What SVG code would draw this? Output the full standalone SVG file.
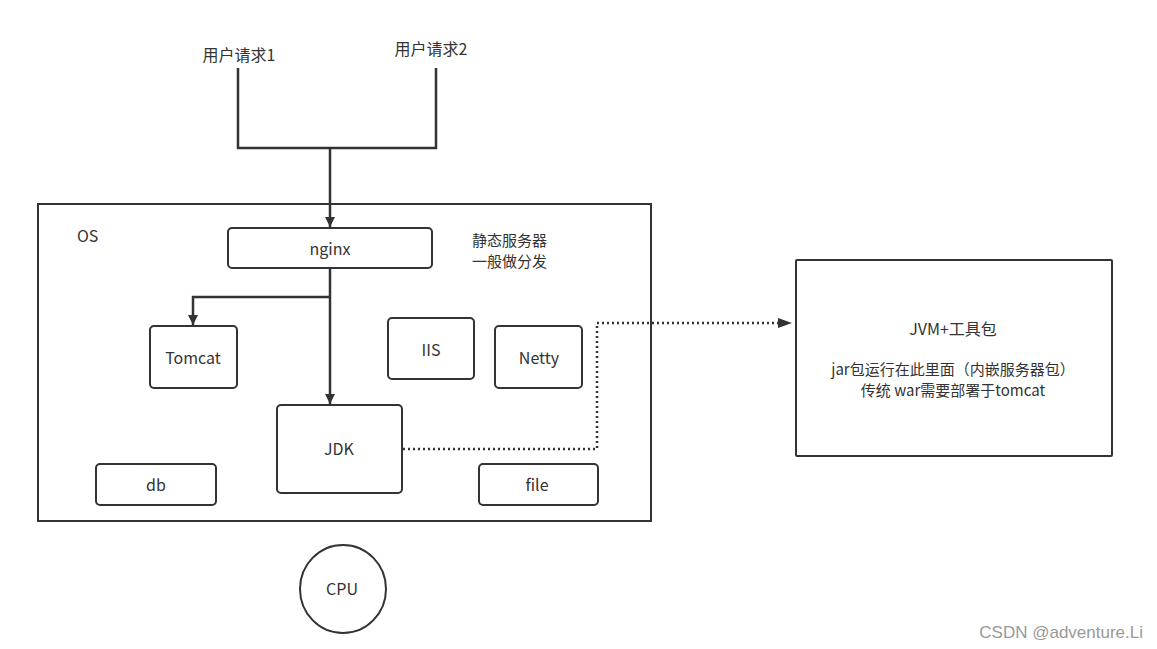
<svg xmlns="http://www.w3.org/2000/svg" width="1157" height="649" viewBox="0 0 1157 649">
<style>
.box{fill:#fff;stroke:#333;stroke-width:2}
.t{font-family:"Noto Sans CJK SC","Noto Sans",sans-serif;font-size:16px;fill:#333;text-anchor:middle;dominant-baseline:central}
.tl{font-family:"Noto Sans CJK SC","Noto Sans",sans-serif;font-size:15px;fill:#333;dominant-baseline:central}
.ts{font-size:15px}
.ln{fill:none;stroke:#333;stroke-width:2.5}
.dot{fill:none;stroke:#333;stroke-width:2.5;stroke-dasharray:2 3}
</style>
<defs>
<marker id="ah" viewBox="0 0 10 10" refX="10" refY="5" markerWidth="10" markerHeight="12" markerUnits="userSpaceOnUse" orient="auto">
<path d="M0,0 L10,5 L0,10 z" fill="#333"/>
</marker>
</defs>
<rect width="1157" height="649" fill="#fff"/>
<g id="os">
<rect class="box" x="38" y="204" width="613" height="317"/>
<text class="tl" x="77" y="235" style="font-size:16px">OS</text>
</g>
<g id="req1"><text class="t" x="239" y="54">用户请求1</text></g>
<g id="req2"><text class="t" x="431" y="48">用户请求2</text></g>
<g id="note"><text class="tl" x="472" y="239">静态服务器</text><text class="tl" x="472" y="260">一般做分发</text></g>
<g id="connectors">
<path class="ln" d="M238,68 V148 H436 V68"/>
<path class="ln" d="M330,148 V227" marker-end="url(#ah)"/>
<path class="ln" d="M330,268 V404" marker-end="url(#ah)"/>
<path class="ln" d="M330,297 H193 V325" marker-end="url(#ah)"/>
<path class="dot" d="M403,449 H597 V323 H780"/>
<path d="M778,318 L792,323 L778,328 z" fill="#333"/>
</g>
<g id="nginx"><rect class="box" x="228" y="228" width="204" height="40" rx="4"/><text class="t" x="330" y="248">nginx</text></g>
<g id="tomcat"><rect class="box" x="150" y="326" width="87" height="62" rx="4"/><text class="t" x="193" y="357">Tomcat</text></g>
<g id="iis"><rect class="box" x="388" y="318" width="86" height="61" rx="4"/><text class="t" x="431" y="349">IIS</text></g>
<g id="netty"><rect class="box" x="495" y="326" width="87" height="62" rx="4"/><text class="t" x="539" y="357">Netty</text></g>
<g id="jdk"><rect class="box" x="277" y="405" width="125" height="88" rx="4"/><text class="t" x="339" y="448">JDK</text></g>
<g id="db"><rect class="box" x="96" y="464" width="120" height="41" rx="4"/><text class="t" x="156" y="484">db</text></g>
<g id="file"><rect class="box" x="479" y="464" width="119" height="41" rx="4"/><text class="t" x="537" y="484">file</text></g>
<g id="cpu"><ellipse class="box" cx="343" cy="589" rx="43" ry="44"/><text class="t" x="342" y="588">CPU</text></g>
<g id="jvm"><rect class="box" x="796" y="260" width="316" height="196" rx="1"/>
<text class="t" x="953" y="328">JVM+工具包</text>
<text class="t ts" x="953" y="368">jar包运行在此里面（内嵌服务器包）</text>
<text class="t ts" x="953" y="389">传统 war需要部署于tomcat</text></g>
<text x="1143" y="632" font-family="Liberation Sans,sans-serif" font-size="17" fill="#999" text-anchor="end" dominant-baseline="central">CSDN @adventure.Li</text>
</svg>
